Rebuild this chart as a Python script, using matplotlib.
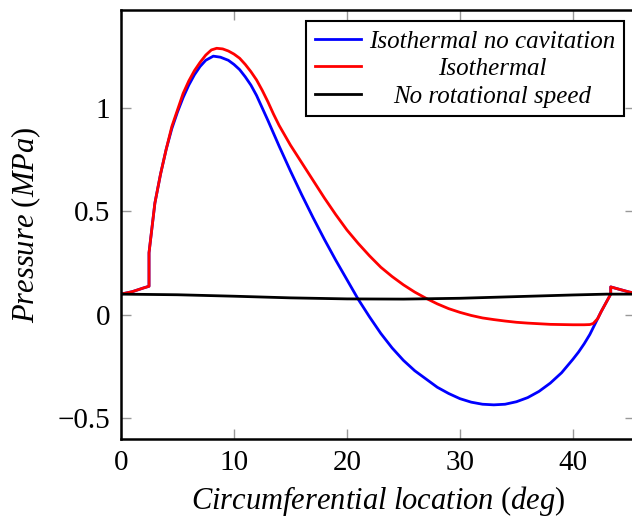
import matplotlib
matplotlib.use("Agg")
import matplotlib.pyplot as plt
import numpy as np

plt.rcParams['mathtext.fontset'] = 'custom'
plt.rcParams['mathtext.rm'] = 'Liberation Serif'
plt.rcParams['mathtext.it'] = 'Liberation Serif:italic'
plt.rcParams['font.family'] = 'Liberation Serif'

# circumferential location (deg) and pressure (MPa)
x_blue = [0, 1, 2, 2.48, 2.48, 3, 3.5, 4, 4.5, 5, 5.5, 6, 6.5, 7, 7.5, 8.17, 8.8, 9.5,
          10, 10.5, 11, 11.5, 12, 13, 14, 15, 16, 17, 18, 19, 20, 21, 22, 23, 24, 25,
          26, 27, 28, 29, 30, 31, 32, 33, 34, 35, 36, 37, 38, 39, 40, 40.5, 41, 41.5,
          42, 42.5, 43, 43.35, 43.35, 44, 45, 45.5]
p_blue = [0.100, 0.112, 0.130, 0.138, 0.30, 0.54, 0.68, 0.80, 0.90, 0.98, 1.05, 1.11,
          1.16, 1.20, 1.23, 1.25, 1.245, 1.23, 1.21, 1.185, 1.15, 1.11, 1.06, 0.94,
          0.815, 0.695, 0.58, 0.47, 0.365, 0.265, 0.17, 0.075, -0.01, -0.09, -0.16,
          -0.22, -0.27, -0.31, -0.35, -0.38, -0.405, -0.422, -0.432, -0.435, -0.432,
          -0.42, -0.40, -0.37, -0.33, -0.28, -0.215, -0.18, -0.14, -0.095, -0.04,
          0.015, 0.065, 0.10, 0.135, 0.125, 0.11, 0.105]

x_red = [0, 1, 2, 2.48, 2.48, 3, 3.5, 4, 4.5, 5, 5.5, 6, 6.5, 7, 7.5, 8, 8.47, 9, 9.5,
         10, 10.5, 11, 11.5, 12, 12.5, 13, 13.5, 14, 15, 16, 17, 18, 19, 20, 21, 22, 23,
         24, 25, 26, 27, 28, 29, 30, 31, 32, 33, 34, 35, 36, 37, 38, 39, 40, 41, 41.5,
         41.8, 42, 42.2, 42.5, 43, 43.35, 43.35, 44, 45, 45.5]
p_red = [0.100, 0.112, 0.130, 0.138, 0.30, 0.54, 0.68, 0.80, 0.91, 0.99, 1.07, 1.13,
         1.18, 1.22, 1.255, 1.28, 1.288, 1.285, 1.275, 1.26, 1.24, 1.21, 1.175, 1.135,
         1.085, 1.03, 0.97, 0.915, 0.82, 0.735, 0.65, 0.565, 0.485, 0.41, 0.345, 0.285,
         0.23, 0.185, 0.145, 0.11, 0.08, 0.053, 0.03, 0.012, -0.003, -0.015, -0.023,
         -0.03, -0.036, -0.04, -0.043, -0.046, -0.047, -0.048, -0.048, -0.047, -0.042,
         -0.03, -0.018, 0.015, 0.065, 0.10, 0.135, 0.125, 0.11, 0.105]

x_black = [0, 5, 10, 15, 20, 25, 30, 35, 40, 43, 45.5]
p_black = [0.100, 0.097, 0.090, 0.082, 0.077, 0.076, 0.080, 0.088, 0.096, 0.100, 0.100]

labels = ['Isothermal no cavitation', 'Isothermal', 'No rotational speed']

fig = plt.figure(figsize=(6.32, 5.27), dpi=100)
ax = fig.add_axes([121/632, 1 - 439/527, (635 - 121)/632, (439 - 10)/527])

ax.plot(x_blue, p_blue, color='blue', lw=2, label=labels[0])
ax.plot(x_red, p_red, color='red', lw=2, label=labels[1])
ax.plot(x_black, p_black, color='black', lw=2, label=labels[2])

ax.set_xlim(0, 45.5)
ax.set_ylim(-0.6, 1.473)
ax.set_xticks([0, 10, 20, 30, 40])
ax.set_yticks([-0.5, 0, 0.5, 1])
ax.set_yticklabels(['\u22120.5', '0', '0.5', '1'])
ax.tick_params(direction='in', length=7, width=1, color='#999999',
               top=True, right=True, labelsize=21, pad=8)
for s in ax.spines.values():
    s.set_linewidth(1.8)

ax.set_xlabel(r'$Circumferential\ location\ (deg)$', fontsize=22, labelpad=6)
ax.set_ylabel(r'$Pressure\ (MPa)$', fontsize=22, labelpad=10)

leg = ax.legend(loc='upper right', fancybox=False, framealpha=1, edgecolor='black',
                prop={'family': 'Liberation Serif', 'style': 'italic', 'size': 18},
                borderaxespad=0.45, labelspacing=0.2, handlelength=1.85,
                handletextpad=0.3, borderpad=0.35)
leg.get_frame().set_linewidth(1.5)

# center the legend texts like pgfplots
fig.canvas.draw()
widths = [t.get_window_extent().width for t in leg.get_texts()]
for t, w in zip(leg.get_texts(), widths):
    t.set_x((max(widths) - w) / 2)

fig.savefig('out.png', dpi=100)
